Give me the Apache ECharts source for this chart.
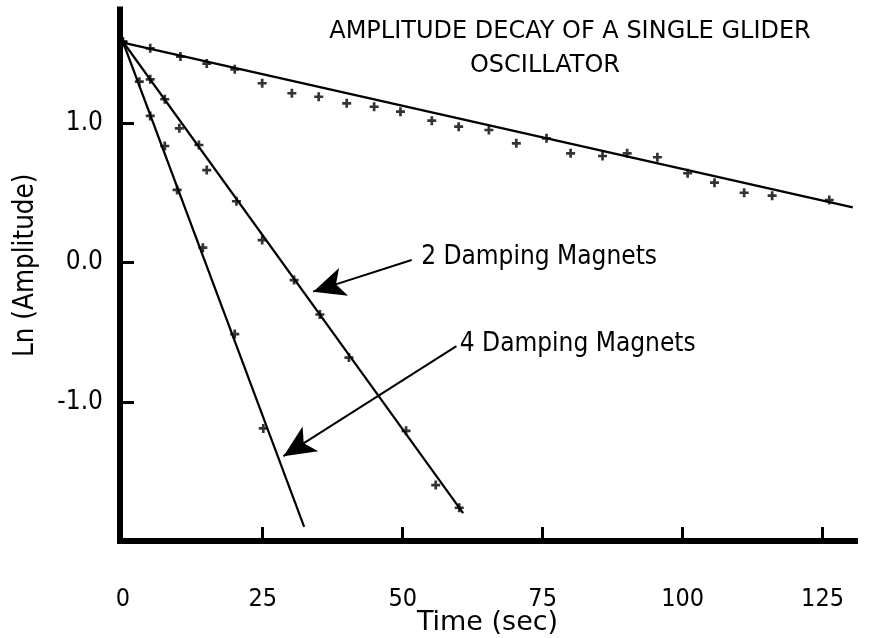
<!DOCTYPE html>
<html>
<head>
<meta charset="utf-8">
<script src="https://cdn.jsdelivr.net/npm/echarts@6/dist/echarts.min.js"></script>
<style>
html,body{margin:0;padding:0;background:#fff;}
#chart{width:891px;height:638px;}
</style>
</head>
<body>
<div id="chart"></div>
<script>
// ---- data ----
var xTickValues = [25, 50, 75, 100, 125];
var xLabelValues = [0, 25, 50, 75, 100, 125];
var yTickValues = [-1, 0, 1];

// single glider, no damping magnets: [time (s), ln(amplitude)]
var noMagnetPoints = [
  [0, 1.587], [4.9, 1.541], [10.3, 1.482], [15.0, 1.431], [20.0, 1.390], [24.9, 1.290],
  [30.2, 1.218], [35.0, 1.193], [40.0, 1.146], [44.9, 1.121], [49.6, 1.086], [55.2, 1.021],
  [60.0, 0.978], [65.4, 0.954], [70.3, 0.858], [75.7, 0.894], [80.0, 0.786], [85.7, 0.767],
  [90.1, 0.786], [95.5, 0.758], [100.9, 0.643], [105.7, 0.575], [111.0, 0.503], [116.0, 0.482],
  [126.2, 0.451]
];
var noMagnetFit = [[0, 1.582], [130.4, 0.398]];

var twoMagnetPoints = [
  [0, 1.587], [4.9, 1.318], [7.5, 1.175], [10.1, 0.966], [13.6, 0.846], [15.0, 0.666],
  [20.3, 0.442], [24.9, 0.163], [30.6, -0.125], [35.2, -0.372], [40.4, -0.682],
  [50.6, -1.208], [55.9, -1.598], [60.1, -1.761]
];
var twoMagnetFit = [[0, 1.59], [60.8, -1.80]];

var fourMagnetPoints = [
  [0, 1.587], [2.95, 1.301], [4.9, 1.055], [7.5, 0.839], [9.7, 0.523],
  [14.3, 0.108], [20.0, -0.513], [25.1, -1.191]
];
var fourMagnetFit = [[0, 1.59], [32.4, -1.898]];

// annotation arrows: [label start, arrow tip]
var twoMagnetArrow = [[51.6, 0.02], [34.0, -0.208]];
var fourMagnetArrow = [[59.6, -0.60], [28.7, -1.390]];
var twoMagnetText = '2 Damping Magnets';
var fourMagnetText = '4 Damping Magnets';

var titleLine1 = 'AMPLITUDE DECAY OF A SINGLE GLIDER';
var titleLine2 = 'OSCILLATOR';
var xName = 'Time (sec)';
var yName = 'Ln (Amplitude)';

// ---- chart ----
var COND = "'DejaVu Sans Condensed','DejaVu Sans',sans-serif";
var WIDE = "'DejaVu Sans',sans-serif";
var plus = 'path://M3.5,0H6.5V3.5H10V6.5H6.5V10H3.5V6.5H0V3.5H3.5Z';

function scatter(name, data) {
  return {
    name: name, type: 'scatter', data: data, symbol: plus, symbolSize: 9,
    itemStyle: { color: '#000' }, silent: true, z: 3
  };
}
function fit(name, data, w, extra) {
  var s = {
    name: name, type: 'line', data: data, symbol: 'none', silent: true,
    lineStyle: { color: '#000', width: w }, z: 2
  };
  if (extra) s.markLine = extra;
  return s;
}
function arrow(pts, text, dist) {
  return {
    silent: true, symbol: ['none', 'arrow'], symbolSize: [22, 32],
    lineStyle: { color: '#000', width: 2, type: 'solid' },
    label: {
      show: true, position: 'start', formatter: text, distance: dist,
      color: '#000', fontSize: 26, fontFamily: COND
    },
    data: [[{ coord: pts[0] }, { coord: pts[1] }]]
  };
}

var chart = echarts.init(document.getElementById('chart'), null, { renderer: 'canvas' });
chart.setOption({
  animation: false,
  backgroundColor: '#fff',
  title: [
    { text: titleLine1, left: 565, top: 15, textAlign: 'center',
      textStyle: { fontSize: 24, fontWeight: 'normal', color: '#000', fontFamily: WIDE } },
    { text: titleLine2, left: 540, top: 49, textAlign: 'center',
      textStyle: { fontSize: 24, fontWeight: 'normal', color: '#000', fontFamily: WIDE } }
  ],
  grid: { left: 120, right: 36, top: 9.5, bottom: 97, containLabel: false, outerBoundsMode: 'none' },
  xAxis: {
    type: 'value', min: -0.5, max: 130.8, position: 'bottom',
    axisLine: { onZero: false, lineStyle: { color: '#000', width: 6, cap: 'square' } },
    axisTick: { show: true, inside: true, length: 14, customValues: xTickValues,
      lineStyle: { color: '#000', width: 3 } },
    axisLabel: { customValues: xLabelValues, margin: 46, fontSize: 25, color: '#000', fontFamily: COND },
    splitLine: { show: false },
    name: xName, nameLocation: 'middle', nameGap: 68, nameMoveOverlap: false,
    nameTextStyle: { fontSize: 27, color: '#000', fontFamily: WIDE }
  },
  yAxis: {
    type: 'value', min: -2, max: 1.82,
    axisLine: { onZero: false, lineStyle: { color: '#000', width: 6, cap: 'square' } },
    axisTick: { show: true, inside: true, length: 14, customValues: yTickValues,
      lineStyle: { color: '#000', width: 3 } },
    axisLabel: { customValues: yTickValues, margin: 17, fontSize: 26, color: '#000', fontFamily: COND,
      formatter: function (v) { return v.toFixed(1); } },
    splitLine: { show: false },
    name: yName, nameLocation: 'middle', nameGap: 80, nameRotate: 90, nameMoveOverlap: false,
    nameTextStyle: { fontSize: 27.5, color: '#000', fontFamily: COND, padding: [0, 0, 0, 20] }
  },
  series: [
    scatter('No magnets', noMagnetPoints),
    fit('No magnets fit', noMagnetFit, 2.5),
    scatter('2 magnets', twoMagnetPoints),
    fit('2 magnets fit', twoMagnetFit, 2.2, arrow(twoMagnetArrow, twoMagnetText, 10)),
    scatter('4 magnets', fourMagnetPoints),
    fit('4 magnets fit', fourMagnetFit, 2.2, arrow(fourMagnetArrow, fourMagnetText, 4))
  ]
});
</script>
</body>
</html>
